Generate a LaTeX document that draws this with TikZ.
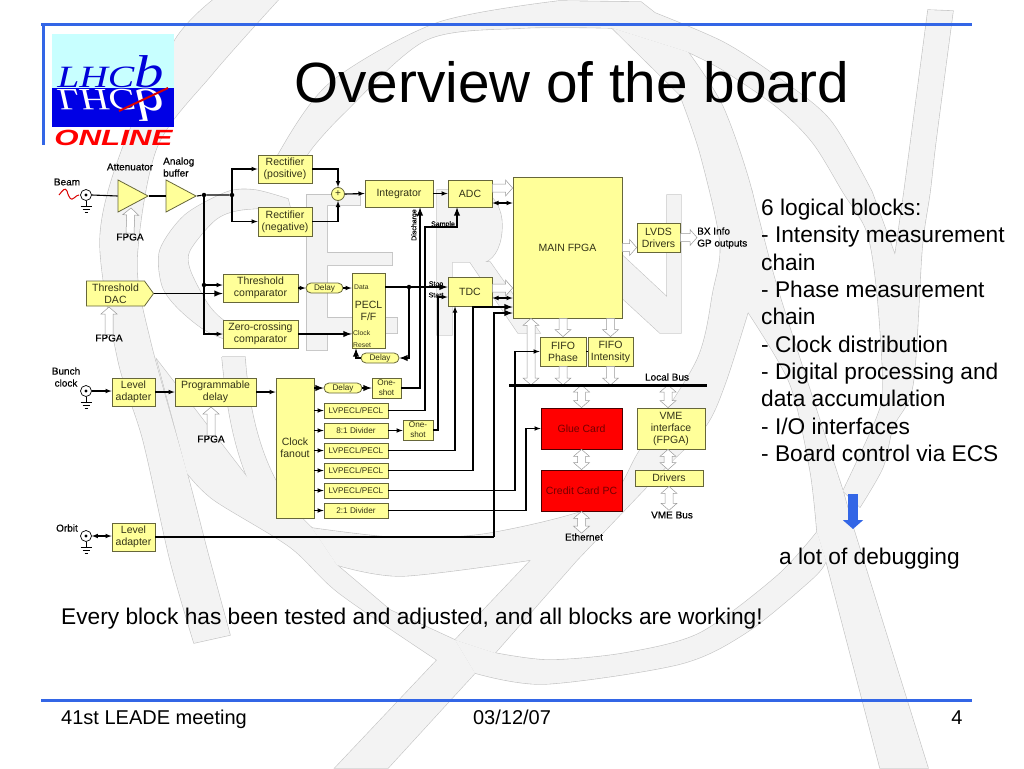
\documentclass[tikz,border=0pt]{standalone}
\usepackage{fontspec}
\usepackage{xcolor}
\setmainfont{Liberation Sans}
\newfontfamily\heavyfont[FakeBold=0.4]{Liberation Sans}
\newfontfamily\logofont{Liberation Serif}
\usetikzlibrary{calc, arrows.meta, shapes.geometric, shapes.misc, shapes.symbols}

\definecolor{blockfill}{HTML}{FFFF99}
\definecolor{blockline}{HTML}{66663A}
\definecolor{blocktext}{HTML}{333318}
\definecolor{slideblue}{HTML}{3366E6}
\definecolor{bandfill}{HTML}{F3F3F3}
\definecolor{bandline}{HTML}{C4C4C4}
\definecolor{hollowline}{HTML}{9A9A9A}
\definecolor{logosky}{HTML}{C8FFFF}

\newcommand{\sized}[2]{\fontsize{#1}{#2}\selectfont}

\tikzset{
  dims/.style 2 args={minimum width=#1pt, minimum height=#2pt},
  ground/.pic={
    \draw (0,0) -- (0,5);
    \draw (-5.5,5) -- (5.5,5);
    \draw (-3.5,8) -- (3.5,8);
    \draw (-1.5,11) -- (1.5,11);
  },
  hollowto/.style={draw=hollowline, line width=0.5pt, fill=white, to path={
    let \p1=($(\tikztotarget)!7pt!(\tikztostart)$) in
    ($(\tikztostart)!4pt!90:(\tikztotarget)$) -- ($(\p1)!4pt!90:(\tikztotarget)$) -- ($(\p1)!8pt!90:(\tikztotarget)$)
    -- (\tikztotarget)
    -- ($(\p1)!8pt!-90:(\tikztotarget)$) -- ($(\p1)!4pt!-90:(\tikztotarget)$) -- ($(\tikztostart)!4pt!-90:(\tikztotarget)$) -- cycle}},
  hollowboth/.style={draw=hollowline, line width=0.5pt, fill=white, to path={
    let \p1=($(\tikztotarget)!7pt!(\tikztostart)$), \p2=($(\tikztostart)!7pt!(\tikztotarget)$) in
    (\tikztostart) -- ($(\p2)!8pt!90:(\tikztotarget)$) -- ($(\p2)!4pt!90:(\tikztotarget)$)
    -- ($(\p1)!4pt!90:(\tikztotarget)$) -- ($(\p1)!8pt!90:(\tikztotarget)$) -- (\tikztotarget)
    -- ($(\p1)!8pt!-90:(\tikztotarget)$) -- ($(\p1)!4pt!-90:(\tikztotarget)$)
    -- ($(\p2)!4pt!-90:(\tikztotarget)$) -- ($(\p2)!8pt!-90:(\tikztotarget)$) -- cycle}}
}

% the grey logo behind the slide
\newcommand{\bandshapes}[1]{
  \path [#1] plot [smooth] coordinates {(213,0) (175,40) (123,147) (100,240) (118,360) (143,440) (170,560) (194,643)}
    -- (230,635) -- plot [smooth] coordinates {(230,635) (207,550) (187,473) (150,340) (137,260) (157,147) (213,73) (278,0)} -- cycle;
  \path [#1] (157,360) -- (247,477) -- (337,565) -- (390,610) -- (455,640) -- (475,673) -- (388,768) -- (335,768) -- (437,660)
    -- plot [smooth] coordinates {(437,660) (339,593) (290,547) (214,500) (187,473)} -- cycle;
  \path [#1] (222,357) -- (245,357) .. controls (250,430) and (270,490) .. (312,528) -- (337,565) -- (260,500) -- (247,477) .. controls (232,440) and (226,400) .. (222,357);
  \path [#1] plot [smooth] coordinates {(278,172) (278,155) (330,83) (437,23) (559,1)} -- (641,2) -- (655,13)
    -- plot [smooth] coordinates {(655,13) (723,42) (777,77) (830,120) (872,192)} -- (895,255) -- (904,192) -- (928,10) -- (953,11)
    -- plot [smooth] coordinates {(953,11) (936,140) (930,192) (922,249) (913,384) (893,427) (883,467) (860,507)} -- (843,491)
    -- plot [smooth] coordinates {(843,491) (877,417) (883,384) (877,292) (867,232) (843,192) (813,143) (777,107) (723,70) (688,52)}
    -- (612,28) -- plot [smooth] coordinates {(612,28) (523,28) (426,40) (344,113) (307,155) (307,172)} -- cycle;
  \path [#1] (612,28) -- (688,52) -- plot [smooth] coordinates {(688,52) (723,107) (752,192) (757,250) (748,312)}
    -- plot [smooth] coordinates {(748,312) (725,384) (705,427) (660,473) (577,560)} -- (495,653) -- (455,640) -- (531,560)
    -- plot [smooth] coordinates {(531,560) (402,576) (337,565)} -- (312,528)
    -- plot [smooth] coordinates {(312,528) (402,538) (491,533) (603,503) (640,450) (697,360) (713,292) (720,242) (700,153) (680,95)} -- cycle;
  \path [#1] (495,653) -- plot [smooth] coordinates {(495,653) (549,660) (625,653) (700,633) (777,576) (817,532)} -- (826,561)
    -- plot [smooth] coordinates {(826,561) (813,578) (747,632) (680,664) (545,684) (475,673)} -- (455,640) -- cycle;
  \path [#1] plot [smooth] coordinates {(748,312) (790,384) (810,470) (817,532)} -- (826,561) -- (880,768) -- (928,768) -- (853,527) -- (843,491)
    -- plot [smooth] coordinates {(843,491) (808,384) (775,280) (752,192)} -- cycle;
  \path [#1] plot [smooth] coordinates {(288,199) (255,190) (227,192) (185,215) (160,250) (162,285) (177,307) (205,330) (240,345)}
    -- (245,330) -- plot [smooth] coordinates {(245,330) (223,320) (207,303) (190,270) (190,250) (215,220) (240,210) (290,207)} -- cycle;
  \path [#1] (307,195) -- (360,195) -- (360,205) -- (327,205) -- (327,253) -- (392,253) -- (392,265) -- (327,265) -- (327,318) -- (397,318) -- (397,333) -- (327,333) -- (327,350) -- (307,350) -- cycle;
  \path [#1] (437,190) -- (480,190) .. controls (495,195) and (502,210) .. (502,225) .. controls (502,245) and (495,258) .. (485,262) -- (490,262) -- (540,333) -- (518,333) -- (470,262) -- (452,262) -- (452,335) -- (437,335) -- cycle;
  \path [#1] (622,255) -- (667,297) -- (667,195) -- (681,195) -- (681,333) -- (660,333) -- (622,298) -- cycle;
}

\begin{document}
\begin{tikzpicture}[x=1pt, y=-1pt, >=latex]

  \tikzstyle{block}=[draw=blockline, line width=0.8pt, fill=blockfill, text=blocktext, inner sep=0pt, align=center, font=\sized{10.5}{12}]
  \tikzstyle{small}=[block, font=\sized{8.2}{10}]
  \tikzstyle{pill}=[small, rounded rectangle]
  \tikzstyle{redblock}=[block, fill=red, draw=black!70!red, text=red!45!black]
  \tikzstyle{amp}=[block, isosceles triangle, isosceles triangle apex angle=50, isosceles triangle stretches, dims={32}{30}, anchor=apex]
  \tikzstyle{bnc}=[circle, draw, line width=0.7pt, fill=white, inner sep=0pt, minimum size=11pt, path picture={\fill [black] (path picture bounding box.center) circle (1.6pt);}]
  \tikzstyle{dot}=[circle, fill=black, inner sep=0pt, minimum size=4.5pt]
  \tikzstyle{note}=[inner sep=0pt, align=center, font=\heavyfont\sized{10}{12}]
  \tikzstyle{tiny}=[inner sep=0pt, font=\heavyfont\sized{7}{8}]
  \tikzstyle{pin}=[inner sep=0pt, text=blocktext, anchor=west, font=\sized{6.8}{8}]
  \tikzstyle{wire}=[line width=1.1pt, black]
  \tikzstyle{fat}=[line width=1.8pt, black]
  \tikzstyle{page}=[inner sep=0pt, anchor=base west, font=\sized{22.7}{27.3}]
  \tikzstyle{foot}=[inner sep=0pt, anchor=base, font=\sized{20}{24}]
  \tikzstyle{rule}=[draw=slideblue, line width=3pt]
  \tikzstyle{logo}=[inner sep=0pt, anchor=base west, xscale=1.28, transform shape]

  \useasboundingbox (0,0) rectangle (1024,768);

  \bandshapes{draw=bandline, line width=1.2pt}
  \bandshapes{fill=bandfill}

  % slide frame
  \coordinate (top-l) at (41,25);
  \coordinate (top-r) at (972,25);
  \coordinate (side-b) at (43,145);
  \coordinate (foot-l) at (41,700);
  \coordinate (foot-r) at (972,700);
  \draw [rule] (top-l) -- (top-r);
  \draw [rule] (top-l -| side-b) -- (side-b);
  \draw [rule] (foot-l) -- (foot-r);

  % logo
  \fill [logosky] (52,34) rectangle (174,88);
  \fill [blue!90!black] (52,88) rectangle (174,127);
  \node [logo, text=blue!85!black] (lhcb) at (57,87) {\logofont\itshape\sized{31}{31}LHC\sized{46}{46}b};
  \node [logo, text=white, yscale=-1] (lhcb-m) at (57,89) {\logofont\itshape\sized{31}{31}LHC\sized{46}{46}b};
  \draw [red!85!black, line width=2pt] (119,111) -- (168,88);
  \node [logo, text=red, xscale=1.11] (online) at (54,145) {\itshape\bfseries\sized{22}{22}ONLINE};

  \node [inner sep=0pt, anchor=base west, font=\sized{56.7}{68}] (title) at (294,102) {Overview of the board};

  % input side
  \node [bnc] (BNC-1) at (86,195) {};
  \node [bnc] (BNC-2) at (86,391) {};
  \node [bnc] (BNC-3) at (86,536) {};
  \pic at (BNC-1.south) {ground};
  \pic at (BNC-2.south) {ground};
  \pic at (BNC-3.south) {ground};
  \node [amp] (atten) at (149,196) {};
  \node [amp] (buffer) at (197,196) {};
  \node [block, signal, signal to=east, signal pointer angle=108, dims={67}{25}] (DAC) at (115.5,293.5) {Threshold\\DAC};
  \node [block, dims={43}{28}] (level-1) at (133.5,392) {Level\\adapter};
  \node [block, dims={81}{28}] (prog) at (215.5,392) {Programmable\\delay};
  \node [block, dims={43}{28}] (level-2) at (133.5,537) {Level\\adapter};

  % intensity chain
  \node [block, dims={54}{28}] (rect-pos) at (285,169) {Rectifier\\(positive)};
  \node [block, dims={54}{29}] (rect-neg) at (285,221.5) {Rectifier\\(negative)};
  \node [block, circle, minimum size=13pt, font=\sized{10}{12}] (sum) at (338,194) {+};
  \node [block, dims={68}{27}] (integrator) at (399,193.5) {Integrator};
  \node [block, dims={44}{27}] (ADC) at (470,193.5) {ADC};
  \node [block, dims={109}{141}] (FPGA) at (567.5,247.5) {MAIN FPGA};
  \node [block, dims={43}{29}] (LVDS) at (658.5,237.5) {LVDS\\Drivers};

  % phase chain
  \node [block, dims={75}{28}] (thr-comp) at (260.5,288) {Threshold\\comparator};
  \node [block, dims={75}{28}] (zero-comp) at (260.5,334) {Zero-crossing\\comparator};
  \node [pill, dims={37}{10}] (delay-1) at (324.5,288) {Delay};
  \node [block, dims={33}{75}] (PECL) at (368.5,310.5) {PECL\\F/F};
  \node [pin] (pin-data) at (354,287.5) {Data};
  \node [pin] (pin-clock) at (353,333) {Clock};
  \node [pin] (pin-reset) at (353,345) {Reset};
  \node [pill, dims={38}{10}] (delay-2) at (380,358) {Delay};
  \node [block, dims={44}{29}] (TDC) at (470,291.5) {TDC};

  % clock distribution
  \node [block, dims={38}{140}] (fanout) at (295,448) {Clock\\fanout};
  \node [pill, dims={38}{10}] (delay-3) at (343,388) {Delay};
  \node [small, dims={29}{20}] (shot-1) at (386.5,388) {One-\\shot};
  \node [small, dims={64}{15}] (LV-1) at (356,410.5) {LVPECL/PECL};
  \node [small, dims={64}{15}] (div-8) at (356,430.5) {8:1 Divider};
  \node [small, dims={30}{20}] (shot-2) at (418,430) {One-\\shot};
  \node [small, dims={64}{15}] (LV-2) at (356,450.5) {LVPECL/PECL};
  \node [small, dims={64}{15}] (LV-3) at (356,470.5) {LVPECL/PECL};
  \node [small, dims={64}{15}] (LV-4) at (356,490.5) {LVPECL/PECL};
  \node [small, dims={64}{15}] (div-2) at (356,510.5) {2:1 Divider};

  % digital side
  \node [block, dims={46}{29}] (FIFO-P) at (563,351.5) {FIFO\\Phase};
  \node [block, dims={45}{29}] (FIFO-I) at (610.5,351.5) {FIFO\\Intensity};
  \node [redblock, dims={81}{41}] (glue) at (581.5,428.5) {Glue Card};
  \node [redblock, dims={81}{41}] (credit) at (581.5,490.5) {Credit Card PC};
  \node [block, dims={68}{41}] (VME) at (671,428.5) {VME\\interface\\(FPGA)};
  \node [block, dims={68}{16}] (drivers) at (669,478) {Drivers};

  % labels
  \node [note] (beam) at (67,182) {Beam};
  \node [note] (attenuator) at (130,167) {Attenuator};
  \node [note, align=left, anchor=west] (analog) at (163,167) {Analog\\buffer};
  \node [note] (FPGA-1) at (130,237) {FPGA};
  \node [note] (FPGA-2) at (109,338) {FPGA};
  \node [note] (FPGA-3) at (211,439) {FPGA};
  \node [note] (bunch) at (66,377) {Bunch\\clock};
  \node [note] (orbit) at (67,528) {Orbit};
  \node [note, align=left, anchor=west] (BX) at (697,238) {BX Info\\GP outputs};
  \node [note] (local) at (667,377) {Local Bus};
  \node [note] (ethernet) at (584,537) {Ethernet};
  \node [note] (VME-bus) at (672,515) {VME Bus};
  \node [tiny, rotate=90] (discharge) at (414.5,225) {Discharge};
  \node [tiny] (sample) at (443,224.5) {Sample};
  \node [tiny] (stop) at (436,284.5) {Stop};
  \node [tiny] (start) at (436,295) {Start};

  % junctions and bends
  \node [dot] (dot-a) at (204,195) {};
  \node [dot] (dot-b) at (232,195) {};
  \node [dot] (dot-c) at (204,285) {};
  \node [dot] (dot-d) at (409,287) {};
  \coordinate (sample-turn) at (425,227);
  \coordinate (start-turn) at (438,297);
  \coordinate (turn-3) at (473,307);
  \coordinate (turn-4) at (515,351.5);
  \coordinate (turn-5) at (526,428.5);
  \coordinate (turn-6) at (494,313);
  \coordinate (bus-l) at (509,385);
  \coordinate (bus-r) at (707,385);
  \coordinate (x-bus) at (531,0);
  \coordinate (x-vme) at (668,0);
  \coordinate (orbit-end) at (494,537);

  % wide data paths
  \coordinate (tip-1) at (131,208);
  \coordinate (tip-2) at (109,307);
  \coordinate (tip-3) at (211,407);
  \draw [hollowto] (FPGA-1.north) to (tip-1);
  \draw [hollowto] (FPGA-2.north) to (tip-2);
  \draw [hollowto] (FPGA-3.north) to (tip-3);
  \draw [hollowto] ([yshift=5.5pt]ADC.east) to ([yshift=5.5pt]ADC.east -| FPGA.west);
  \draw [hollowto] ([yshift=3.5pt]TDC.east) to ([yshift=3.5pt]TDC.east -| FPGA.west);
  \draw [hollowto] (FPGA.east) to (FPGA.east -| LVDS.west);
  \draw [hollowto] (LVDS.east) to (LVDS.east -| BX.west);
  \draw [hollowboth] (FPGA.south -| x-bus) to (bus-l -| x-bus);
  \draw [hollowto] (FPGA.south -| FIFO-P.north) to (FIFO-P.north);
  \draw [hollowto] (FPGA.south -| FIFO-I.north) to (FIFO-I.north);
  \draw [hollowto] (FIFO-P.south) to (bus-l -| FIFO-P.south);
  \draw [hollowto] (FIFO-I.south) to (bus-l -| FIFO-I.south);
  \draw [hollowboth] (bus-l -| glue.north) to (glue.north);
  \draw [hollowboth] (glue.south) to (credit.north);
  \draw [hollowboth] (credit.south) to (ethernet.north -| credit.south);
  \draw [hollowboth] (bus-l -| x-vme) to (VME.north -| x-vme);
  \draw [hollowboth] (VME.south -| x-vme) to (drivers.north -| x-vme);
  \draw [hollowboth] (drivers.south) to ([yshift=1pt]VME-bus.north -| drivers.south);

  % beam signal
  \draw [red!85!black, line width=1pt] (59,195) .. controls (63,190) and (65,187) .. (67,191) .. controls (69,198) and (71,201) .. (74,198) .. controls (76,196) and (78,195) .. (79,195);

  \draw [wire] (BNC-1.east) -- (atten.west);
  \draw [wire] (atten.apex) -- (buffer.west);
  \draw [wire] (buffer.apex) -- (dot-a) -- (dot-b);
  \draw [wire, ->] (dot-b) |- (rect-pos.west);
  \draw [wire, ->] (dot-b) |- (rect-neg.west);
  \draw [wire, ->] (rect-pos.east) -| (sum.north);
  \draw [wire, ->] (rect-neg.east) -| (sum.south);
  \draw [wire, ->] (sum.east) -- (integrator.west);
  \draw [wire, ->] (integrator.east) -- (ADC.west);
  \draw [wire, <->] ([yshift=-9.5pt]ADC.east) -- ([yshift=-9.5pt]ADC.east -| FPGA.west);

  \draw [wire] (dot-a) -- (dot-c);
  \draw [wire, ->] (dot-c) -- (dot-c -| thr-comp.west);
  \draw [wire, ->] (dot-c) |- (zero-comp.west);
  \draw [fat, ->] (DAC.east) -- (DAC.east -| thr-comp.west);
  \draw [wire, <-] (delay-1.west) -- (thr-comp.east);
  \draw [wire, ->] (delay-1.east) -- (delay-1.east -| PECL.west);
  \draw [fat, ->] (zero-comp.east) -- (zero-comp.east -| PECL.west);
  \draw [fat, ->] (dot-d -| PECL.east) -- (dot-d -| TDC.west);
  \draw [fat, ->] (dot-d) |- (delay-2.east);
  \draw [fat, ->] (delay-2.west) -| ([xshift=-12.5pt]PECL.south);
  \draw [wire, <->] ([yshift=-6.5pt]TDC.east) -- ([yshift=-6.5pt]TDC.east -| FPGA.west);

  \draw [wire, ->] (BNC-2.east) -- (level-1.west |- BNC-2.east);
  \draw [wire, ->] (level-1.east) -- (prog.west);
  \draw [wire, ->] (prog.east) -- (prog.east -| fanout.west);
  \draw [wire, <->] (BNC-3.east) -- (BNC-3.east -| level-2.west);
  \draw [fat, ->] (delay-3.west -| fanout.east) -- (delay-3.west);
  \draw [fat, ->] (delay-3.east) -- (shot-1.west);
  \foreach \out in {LV-1, div-8, LV-2, LV-3, LV-4, div-2}
    \draw [wire, ->] (\out.west -| fanout.east) -- (\out.west);
  \draw [wire, ->] (div-8.east) -- (div-8.east -| shot-2.west);

  \draw [fat, ->] (shot-1.east) -| ([xshift=21pt]integrator.south);
  \draw [fat, ->] (LV-1.east) -| (sample-turn) -| ([xshift=-13pt]ADC.south);
  \draw [wire, ->] (shot-2.east) -| (start-turn) -- (start-turn -| TDC.west);
  \draw [wire, ->] (LV-2.east) -| ([xshift=-15pt]TDC.south);
  \draw [fat, ->] (LV-3.east) -| (turn-3) -- (turn-3 -| FPGA.west);
  \draw [wire, ->] (LV-4.east) -| (turn-4) -- (FIFO-P.west);
  \draw [wire, ->] (div-2.east) -| (turn-5) -- (glue.west);
  \draw [wire] (level-2.east) -- (orbit-end);
  \draw [fat, ->] (orbit-end) -- (turn-6) -- (turn-6 -| FPGA.west);
  \draw [wire] (FIFO-P.east) -- (FIFO-I.west);
  \draw [line width=3pt] (bus-l) -- (bus-r);

  % slide text
  \node [inner sep=0pt, anchor=north west, align=left, font=\sized{22.7}{27.3}] (list) at (761,199) {6 logical blocks:\\- Intensity measurement\\chain\\- Phase measurement\\chain\\- Clock distribution\\- Digital processing and\\data accumulation\\- I/O interfaces\\- Board control via ECS};
  \coordinate (down-a) at (853,494);
  \coordinate (down-b) at (853,529);
  \draw [slideblue, line width=10pt, -{Triangle[length=9pt, width=20pt]}] (down-a) -- (down-b);
  \node [page] (debug) at (779,564) {a lot of debugging};
  \node [page] (tested) at (61,624) {Every block has been tested and adjusted, and all blocks are working!};
  \node [foot, anchor=base west] (meeting) at (61,724) {41st LEADE meeting};
  \node [foot] (date) at (512,724) {03/12/07};
  \node [foot] (number) at (957,724) {4};
\end{tikzpicture}
\end{document}
